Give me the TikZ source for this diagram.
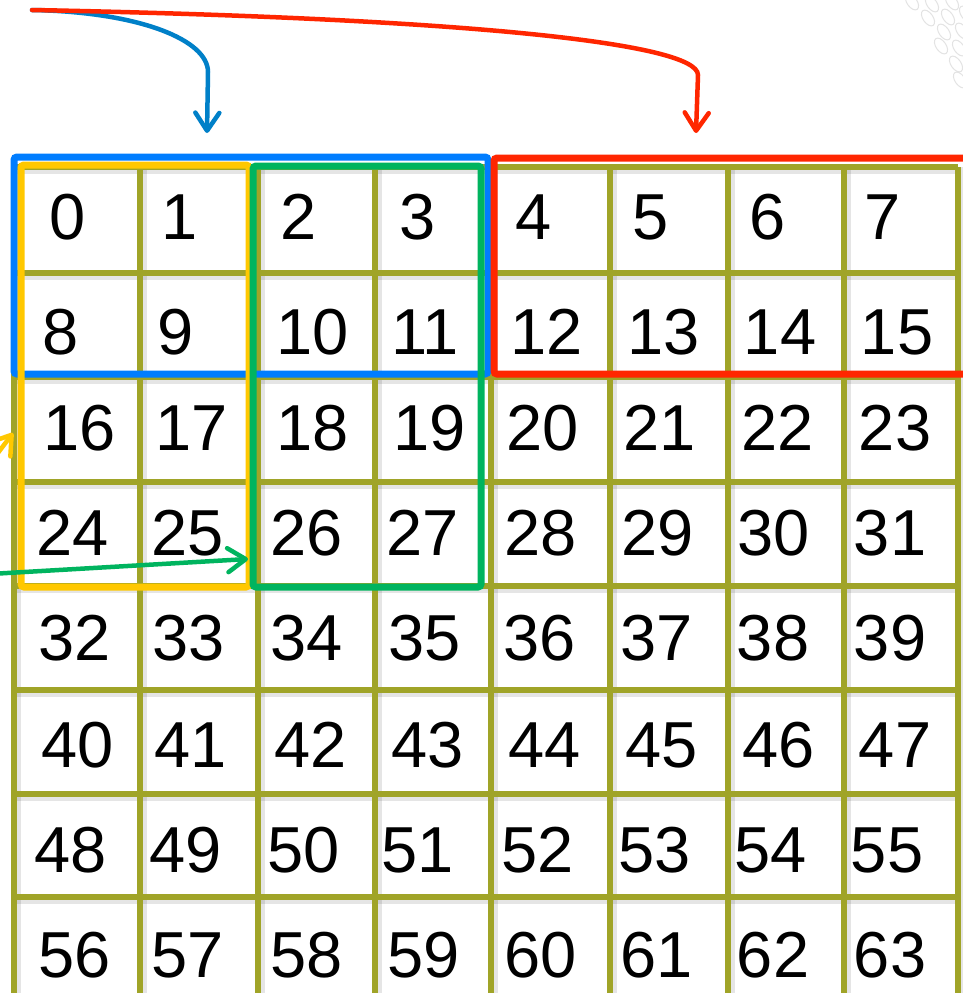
\documentclass[tikz,border=0pt]{standalone}
\usepackage{fontspec}
\setmainfont{Liberation Sans}
\usetikzlibrary{arrows.meta}
\definecolor{gridol}{RGB}{160,164,40}
\definecolor{bxblue}{RGB}{0,125,255}
\definecolor{bxyellow}{RGB}{255,200,0}
\definecolor{bxgreen}{RGB}{0,180,95}
\definecolor{bxred}{RGB}{255,38,0}
\definecolor{arblue}{RGB}{0,128,200}
\begin{document}
\begin{tikzpicture}[x=1pt,y=-1pt,
  gridline/.style={draw=gridol,line width=5.5pt},
  gridshadow/.style={draw=black,opacity=0.10,line width=10pt},
  selbox/.style={line width=7pt,rounded corners=3pt},
  num/.style={inner sep=0pt,font=\fontsize{65}{70}\selectfont},
  deco/.style={draw=gray!22,line width=1pt},
  arr/.style={line width=4.5pt,line cap=round,line join=round,
    -{Straight Barb[length=18pt,width=24pt,line cap=round,line join=round]}}
]
\useasboundingbox (0,0) rectangle (963,993);
\clip (0,0) rectangle (963,993);
\fill[white] (0,0) rectangle (963,993);

% faint background decoration
\foreach \cx/\cy in {912/2,932/4,952/2,928/18,948/17,966/14,944/32,962/31,941/46,959/48,956/64,960/80}
  \draw[deco,rotate around={-55:(\cx,\cy)}] (\cx,\cy) ellipse (9 and 5);

% grid shadows
\foreach \y in {167,273,377,482,586,690,794,897}
  \draw[gridshadow] (14,\y+2) -- (958,\y+2);
\foreach \x in {14,140,258,375,491,610,728,844,958}
  \draw[gridshadow] (\x+2,167) -- (\x+2,1000);
% grid lines
\foreach \y in {167,273,377,482,586,690,794,897}
  \draw[gridline] (14,\y) -- (958,\y);
\foreach \x in {14,140,258,375,491,610,728,844,958}
  \draw[gridline] (\x,167) -- (\x,1000);

% numbers
\foreach \n/\x/\y in {
  0/68/217,1/180/217,2/299/217,3/418/217,4/534/217,5/651/217,6/768/217,7/883/217,
  8/61/332,9/176/332,10/313/332,11/425/332,12/547/332,13/664/332,14/780/332,15/897/332,
  16/80/428,17/192/428,18/313/428,19/430/428,20/543/428,21/660/428,22/778/428,23/895/428,
  24/73/533,25/188/533,26/307/533,27/423/533,28/541/533,29/658/533,30/774/533,31/890/533,
  32/75/638,33/189/638,34/307/638,35/425/638,36/540/638,37/657/638,38/773/638,39/890/638,
  40/78/745,41/191/745,42/311/745,43/428/745,44/545/745,45/662/745,46/779/745,47/895/745,
  48/71/850,49/186/850,50/304/850,51/418/850,52/538/850,53/655/850,54/771/850,55/887/850,
  56/75/955,57/188/955,58/307/955,59/424/955,60/541/955,61/657/955,62/773/955,63/890/955}
  \node[num] (n\n) at (\x,\y) {\n};

% selection boxes
\draw[selbox,draw=bxblue] (14,157) rectangle (488,374);
\draw[selbox,draw=bxred] (494,158) rectangle (980,374);
\draw[selbox,draw=bxyellow] (21,165) rectangle (249,587);
\draw[selbox,draw=bxgreen] (253,166) rectangle (481,587);

% arrows
\coordinate (src) at (32,10);
\coordinate (bluetip) at (207,133);
\coordinate (redtip) at (696,133);
\coordinate (ytail) at (-15,470);
\coordinate (ytip) at (13,433);
\coordinate (gtail) at (-10,574);
\coordinate (gtip) at (248,559);
\draw[arr,draw=arblue] (src) .. controls (140,12) and (208,40) .. (208,72) -- (bluetip);
\draw[arr,draw=bxred] (src) .. controls (450,18) and (698,42) .. (698,75) -- (redtip);
\draw[arr,draw=bxyellow] (ytail) -- (ytip);
\draw[arr,draw=bxgreen] (gtail) -- (gtip);
\end{tikzpicture}
\end{document}
